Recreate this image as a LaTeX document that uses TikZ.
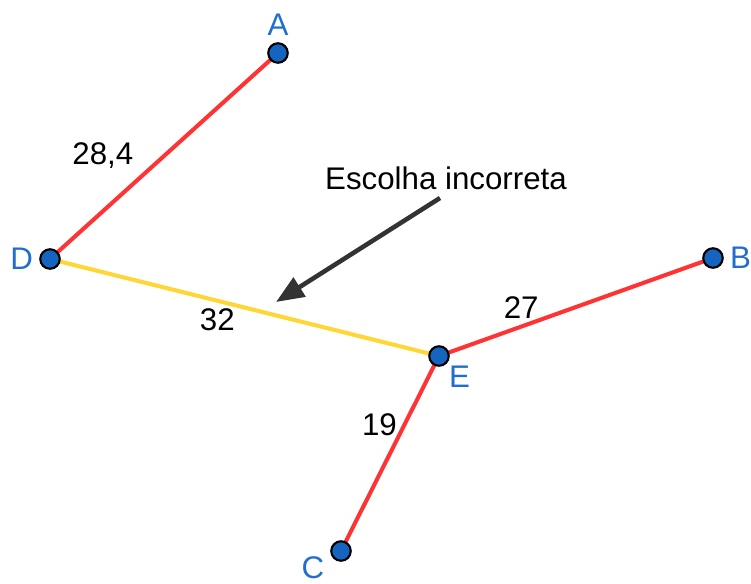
\documentclass[tikz,border=0pt]{standalone}
\usepackage{fontspec}
\setmainfont{Liberation Sans}
\usetikzlibrary{arrows.meta,backgrounds}
\definecolor{ptblue}{RGB}{21,101,192}
\definecolor{lblblue}{RGB}{33,110,205}
\definecolor{edgered}{RGB}{255,51,51}
\definecolor{edgeyellow}{RGB}{255,214,51}
\definecolor{arrowgray}{RGB}{51,51,51}
\begin{document}
\begin{tikzpicture}[x=0.02cm,y=-0.02cm,font=\fontsize{17.8}{21}\selectfont,
  pt/.style={circle,draw=black,fill=ptblue,line width=1.2pt,inner sep=0pt,minimum size=0.39cm},
  ptlabel/.style={text=lblblue},
  weight/.style={text=black},
  chosen/.style={edgered,line width=2.3pt},
  rejected/.style={edgeyellow,line width=2.3pt}]
\useasboundingbox (0,0) rectangle (751,583);
\node[pt,label={[ptlabel]above:A}] (A) at (278,53) {};
\node[pt,label={[ptlabel]left:D}] (D) at (50,259) {};
\node[pt,label={[ptlabel]right:B}] (B) at (713,258) {};
\node[pt,label={[ptlabel,label distance=-3pt]below right:E}] (E) at (439,356) {};
\node[pt,label={[ptlabel,inner sep=1pt,label distance=0pt,xshift=-4pt,yshift=2.5pt]below left:C}] (C) at (341,551) {};
\begin{scope}[on background layer]
\draw[chosen] (A.center) -- (D.center) node[weight,pos=0.6,above left] {28,4};
\draw[rejected] (D.center) -- (E.center) node[weight,pos=0.43,below] {32};
\draw[chosen] (E.center) -- (B.center) node[weight,pos=0.3,above] {27};
\draw[chosen] (E.center) -- (C.center) node[weight,pos=0.35,left] {19};
\end{scope}
\node (note) at (446,178) {Escolha incorreta};
\coordinate (tail) at (440,198);
\coordinate (head) at (276,302);
\draw[arrowgray,line width=2.6pt,-{Triangle[length=0.56cm,width=0.44cm]}] (tail) -- (head);
\end{tikzpicture}
\end{document}
